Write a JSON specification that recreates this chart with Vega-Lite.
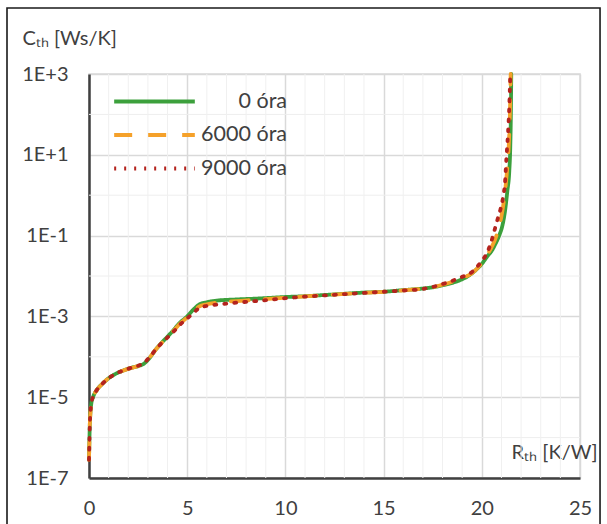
{
  "$schema": "https://vega.github.io/schema/vega-lite/v6.json",
  "width": 491,
  "height": 404,
  "autosize": "none",
  "padding": {"left": 89, "top": 74, "right": 27, "bottom": 46},
  "background": "white",
  "config": {
    "view": {"stroke": "#d9d9d9", "strokeWidth": 1.5},
    "font": "Lato"
  },
  "resolve": {"axis": {"x": "independent", "y": "independent"}},
  "datasets": {
    "curves": [
      {"R": 0, "C": 2.818e-7, "s": "0 óra"},
      {"R": 0.02, "C": 7.943e-7, "s": "0 óra"},
      {"R": 0.04, "C": 1.995e-6, "s": "0 óra"},
      {"R": 0.07, "C": 3.981e-6, "s": "0 óra"},
      {"R": 0.12, "C": 7.079e-6, "s": "0 óra"},
      {"R": 0.22, "C": 1.047e-5, "s": "0 óra"},
      {"R": 0.4, "C": 1.514e-5, "s": "0 óra"},
      {"R": 0.7, "C": 2.188e-5, "s": "0 óra"},
      {"R": 1.0, "C": 2.951e-5, "s": "0 óra"},
      {"R": 1.4, "C": 3.890e-5, "s": "0 óra"},
      {"R": 1.8, "C": 4.677e-5, "s": "0 óra"},
      {"R": 2.1, "C": 5.248e-5, "s": "0 óra"},
      {"R": 2.5, "C": 5.888e-5, "s": "0 óra"},
      {"R": 2.8, "C": 6.761e-5, "s": "0 óra"},
      {"R": 3.1, "C": 9.550e-5, "s": "0 óra"},
      {"R": 3.4, "C": 1.514e-4, "s": "0 óra"},
      {"R": 3.7, "C": 2.239e-4, "s": "0 óra"},
      {"R": 4.0, "C": 3.162e-4, "s": "0 óra"},
      {"R": 4.3, "C": 4.571e-4, "s": "0 óra"},
      {"R": 4.6, "C": 6.761e-4, "s": "0 óra"},
      {"R": 5.0, "C": 1.0e-3, "s": "0 óra"},
      {"R": 5.3, "C": 1.445e-3, "s": "0 óra"},
      {"R": 5.6, "C": 1.950e-3, "s": "0 óra"},
      {"R": 6.0, "C": 2.239e-3, "s": "0 óra"},
      {"R": 6.5, "C": 2.455e-3, "s": "0 óra"},
      {"R": 7.5, "C": 2.630e-3, "s": "0 óra"},
      {"R": 8.5, "C": 2.754e-3, "s": "0 óra"},
      {"R": 10, "C": 3.020e-3, "s": "0 óra"},
      {"R": 11, "C": 3.162e-3, "s": "0 óra"},
      {"R": 12, "C": 3.388e-3, "s": "0 óra"},
      {"R": 13, "C": 3.631e-3, "s": "0 óra"},
      {"R": 14, "C": 3.890e-3, "s": "0 óra"},
      {"R": 15, "C": 4.074e-3, "s": "0 óra"},
      {"R": 16, "C": 4.467e-3, "s": "0 óra"},
      {"R": 17, "C": 4.898e-3, "s": "0 óra"},
      {"R": 17.5, "C": 5.248e-3, "s": "0 óra"},
      {"R": 18, "C": 5.888e-3, "s": "0 óra"},
      {"R": 18.5, "C": 6.761e-3, "s": "0 óra"},
      {"R": 19, "C": 8.318e-3, "s": "0 óra"},
      {"R": 19.4, "C": 1.072e-2, "s": "0 óra"},
      {"R": 19.7, "C": 1.413e-2, "s": "0 óra"},
      {"R": 20.0, "C": 1.995e-2, "s": "0 óra"},
      {"R": 20.3, "C": 3.162e-2, "s": "0 óra"},
      {"R": 20.5, "C": 4.169e-2, "s": "0 óra"},
      {"R": 20.7, "C": 6.310e-2, "s": "0 óra"},
      {"R": 20.9, "C": 0.1047, "s": "0 óra"},
      {"R": 21.05, "C": 0.1778, "s": "0 óra"},
      {"R": 21.18, "C": 0.3981, "s": "0 óra"},
      {"R": 21.3, "C": 1.259, "s": "0 óra"},
      {"R": 21.4, "C": 3.981, "s": "0 óra"},
      {"R": 21.45, "C": 15.85, "s": "0 óra"},
      {"R": 21.48, "C": 100, "s": "0 óra"},
      {"R": 21.5, "C": 1000, "s": "0 óra"},

      {"R": 0, "C": 2.818e-7, "s": "6000 óra"},
      {"R": 0.02, "C": 7.943e-7, "s": "6000 óra"},
      {"R": 0.04, "C": 1.995e-6, "s": "6000 óra"},
      {"R": 0.07, "C": 3.981e-6, "s": "6000 óra"},
      {"R": 0.12, "C": 7.079e-6, "s": "6000 óra"},
      {"R": 0.22, "C": 1.047e-5, "s": "6000 óra"},
      {"R": 0.4, "C": 1.514e-5, "s": "6000 óra"},
      {"R": 0.7, "C": 2.188e-5, "s": "6000 óra"},
      {"R": 1.0, "C": 2.951e-5, "s": "6000 óra"},
      {"R": 1.4, "C": 3.890e-5, "s": "6000 óra"},
      {"R": 1.8, "C": 4.677e-5, "s": "6000 óra"},
      {"R": 2.1, "C": 5.248e-5, "s": "6000 óra"},
      {"R": 2.5, "C": 5.9e-5, "s": "6000 óra"},
      {"R": 2.8, "C": 6.9e-5, "s": "6000 óra"},
      {"R": 3.1, "C": 9.8e-5, "s": "6000 óra"},
      {"R": 3.4, "C": 1.514e-4, "s": "6000 óra"},
      {"R": 3.7, "C": 2.2e-4, "s": "6000 óra"},
      {"R": 4.0, "C": 3.09e-4, "s": "6000 óra"},
      {"R": 4.3, "C": 4.37e-4, "s": "6000 óra"},
      {"R": 4.6, "C": 6.4e-4, "s": "6000 óra"},
      {"R": 5.0, "C": 9.4e-4, "s": "6000 óra"},
      {"R": 5.3, "C": 1.32e-3, "s": "6000 óra"},
      {"R": 5.6, "C": 1.74e-3, "s": "6000 óra"},
      {"R": 6.0, "C": 2.0e-3, "s": "6000 óra"},
      {"R": 6.5, "C": 2.19e-3, "s": "6000 óra"},
      {"R": 7.5, "C": 2.4e-3, "s": "6000 óra"},
      {"R": 8.5, "C": 2.57e-3, "s": "6000 óra"},
      {"R": 10, "C": 2.9e-3, "s": "6000 óra"},
      {"R": 11, "C": 3.12e-3, "s": "6000 óra"},
      {"R": 12, "C": 3.35e-3, "s": "6000 óra"},
      {"R": 13, "C": 3.59e-3, "s": "6000 óra"},
      {"R": 14, "C": 3.85e-3, "s": "6000 óra"},
      {"R": 15, "C": 4.07e-3, "s": "6000 óra"},
      {"R": 16, "C": 4.42e-3, "s": "6000 óra"},
      {"R": 17, "C": 4.85e-3, "s": "6000 óra"},
      {"R": 17.5, "C": 5.3e-3, "s": "6000 óra"},
      {"R": 18, "C": 6.1e-3, "s": "6000 óra"},
      {"R": 18.5, "C": 7.2e-3, "s": "6000 óra"},
      {"R": 19, "C": 8.9e-3, "s": "6000 óra"},
      {"R": 19.5, "C": 1.17e-2, "s": "6000 óra"},
      {"R": 19.8, "C": 1.6e-2, "s": "6000 óra"},
      {"R": 20.05, "C": 2.25e-2, "s": "6000 óra"},
      {"R": 20.3, "C": 3.5e-2, "s": "6000 óra"},
      {"R": 20.5, "C": 5.2e-2, "s": "6000 óra"},
      {"R": 20.7, "C": 8.5e-2, "s": "6000 óra"},
      {"R": 20.85, "C": 0.15, "s": "6000 óra"},
      {"R": 21.0, "C": 0.3, "s": "6000 óra"},
      {"R": 21.12, "C": 0.7, "s": "6000 óra"},
      {"R": 21.22, "C": 1.8, "s": "6000 óra"},
      {"R": 21.3, "C": 5.0, "s": "6000 óra"},
      {"R": 21.38, "C": 20, "s": "6000 óra"},
      {"R": 21.43, "C": 100, "s": "6000 óra"},
      {"R": 21.47, "C": 1000, "s": "6000 óra"},

      {"R": 0, "C": 2.818e-7, "s": "9000 óra"},
      {"R": 0.02, "C": 7.943e-7, "s": "9000 óra"},
      {"R": 0.04, "C": 1.995e-6, "s": "9000 óra"},
      {"R": 0.07, "C": 3.981e-6, "s": "9000 óra"},
      {"R": 0.12, "C": 7.079e-6, "s": "9000 óra"},
      {"R": 0.22, "C": 1.047e-5, "s": "9000 óra"},
      {"R": 0.4, "C": 1.514e-5, "s": "9000 óra"},
      {"R": 0.7, "C": 2.188e-5, "s": "9000 óra"},
      {"R": 1.0, "C": 2.951e-5, "s": "9000 óra"},
      {"R": 1.4, "C": 3.890e-5, "s": "9000 óra"},
      {"R": 1.8, "C": 4.677e-5, "s": "9000 óra"},
      {"R": 2.1, "C": 5.248e-5, "s": "9000 óra"},
      {"R": 2.5, "C": 6.026e-5, "s": "9000 óra"},
      {"R": 2.8, "C": 7.079e-5, "s": "9000 óra"},
      {"R": 3.1, "C": 1.0e-4, "s": "9000 óra"},
      {"R": 3.4, "C": 1.514e-4, "s": "9000 óra"},
      {"R": 3.7, "C": 2.188e-4, "s": "9000 óra"},
      {"R": 4.0, "C": 3.020e-4, "s": "9000 óra"},
      {"R": 4.3, "C": 4.169e-4, "s": "9000 óra"},
      {"R": 4.6, "C": 6.026e-4, "s": "9000 óra"},
      {"R": 5.0, "C": 8.913e-4, "s": "9000 óra"},
      {"R": 5.3, "C": 1.202e-3, "s": "9000 óra"},
      {"R": 5.6, "C": 1.585e-3, "s": "9000 óra"},
      {"R": 6.0, "C": 1.820e-3, "s": "9000 óra"},
      {"R": 6.5, "C": 1.950e-3, "s": "9000 óra"},
      {"R": 7.5, "C": 2.188e-3, "s": "9000 óra"},
      {"R": 8.5, "C": 2.399e-3, "s": "9000 óra"},
      {"R": 10, "C": 2.818e-3, "s": "9000 óra"},
      {"R": 11, "C": 3.090e-3, "s": "9000 óra"},
      {"R": 12, "C": 3.311e-3, "s": "9000 óra"},
      {"R": 13, "C": 3.548e-3, "s": "9000 óra"},
      {"R": 14, "C": 3.802e-3, "s": "9000 óra"},
      {"R": 15, "C": 4.074e-3, "s": "9000 óra"},
      {"R": 16, "C": 4.365e-3, "s": "9000 óra"},
      {"R": 16.85, "C": 4.677e-3, "s": "9000 óra"},
      {"R": 17.5, "C": 5.370e-3, "s": "9000 óra"},
      {"R": 18, "C": 6.310e-3, "s": "9000 óra"},
      {"R": 18.5, "C": 7.586e-3, "s": "9000 óra"},
      {"R": 19, "C": 9.550e-3, "s": "9000 óra"},
      {"R": 19.5, "C": 1.259e-2, "s": "9000 óra"},
      {"R": 19.8, "C": 1.778e-2, "s": "9000 óra"},
      {"R": 20.05, "C": 2.512e-2, "s": "9000 óra"},
      {"R": 20.25, "C": 3.631e-2, "s": "9000 óra"},
      {"R": 20.45, "C": 6.310e-2, "s": "9000 óra"},
      {"R": 20.6, "C": 0.1122, "s": "9000 óra"},
      {"R": 20.8, "C": 0.2512, "s": "9000 óra"},
      {"R": 20.95, "C": 0.4467, "s": "9000 óra"},
      {"R": 21.1, "C": 1.0, "s": "9000 óra"},
      {"R": 21.18, "C": 2.0, "s": "9000 óra"},
      {"R": 21.25, "C": 7.943, "s": "9000 óra"},
      {"R": 21.33, "C": 31.62, "s": "9000 óra"},
      {"R": 21.4, "C": 158.5, "s": "9000 óra"},
      {"R": 21.45, "C": 1000, "s": "9000 óra"}
    ],
    "gridY": [
      {"g": 1e-6}, {"g": 1e-4}, {"g": 1e-2}, {"g": 1}, {"g": 100}
    ],
    "gridX": [
      {"g": 1}, {"g": 2}, {"g": 3}, {"g": 4},
      {"g": 6}, {"g": 7}, {"g": 8}, {"g": 9},
      {"g": 11}, {"g": 12}, {"g": 13}, {"g": 14},
      {"g": 16}, {"g": 17}, {"g": 18}, {"g": 19},
      {"g": 21}, {"g": 22}, {"g": 23}, {"g": 24}
    ]
  },
  "layer": [
    {
      "data": {"name": "gridY"},
      "mark": {"type": "rule", "color": "#eeeeee", "strokeWidth": 1},
      "encoding": {
        "y": {"field": "g", "type": "quantitative", "scale": {"type": "log", "domain": [1e-7, 1000], "nice": false}, "axis": null}
      }
    },
    {
      "data": {"name": "gridX"},
      "mark": {"type": "rule", "color": "#f0f0f0", "strokeWidth": 1},
      "encoding": {
        "x": {"field": "g", "type": "quantitative", "scale": {"domain": [0, 25], "nice": false}, "axis": null}
      }
    },
    {
      "data": {"values": [{}]},
      "mark": {"type": "rect", "fill": null, "fillOpacity": 0, "stroke": "#1a1a1a", "strokeWidth": 1.6, "clip": false},
      "encoding": {
        "x": {"datum": -4.175, "type": "quantitative", "axis": null},
        "x2": {"datum": 26.02},
        "y": {"datum": 43000, "type": "quantitative", "axis": null},
        "y2": {"datum": 5e-9}
      }
    },
    {
      "data": {"name": "curves"},
      "mark": {"type": "line", "strokeWidth": 3.8, "strokeCap": "round", "strokeJoin": "round", "interpolate": "monotone", "clip": false},
      "encoding": {
        "x": {
          "field": "R", "type": "quantitative",
          "scale": {"domain": [0, 25], "nice": false},
          "axis": {
            "values": [0, 5, 10, 15, 20, 25],
            "grid": true, "gridColor": "#d9d9d9", "gridWidth": 1.5,
            "domain": true, "domainColor": "#404040", "domainWidth": 2.5,
            "ticks": false, "labelFlush": false,
            "labelPadding": 20, "labelFontSize": 20, "labelColor": "#404040", "labelFont": "Lato",
            "title": "Rₜₕ [K/W]",
            "titleFont": "Lato", "titleFontSize": 20, "titleFontWeight": "normal", "titleColor": "#404040",
            "titleAlign": "right", "titleBaseline": "middle", "titleAngle": 0,
            "titleX": 508, "titleY": -26
          }
        },
        "y": {
          "field": "C", "type": "quantitative",
          "scale": {"type": "log", "domain": [1e-7, 1000], "nice": false},
          "axis": {
            "values": [1e-7, 1e-5, 1e-3, 0.1, 10, 1000],
            "grid": true, "gridColor": "#d9d9d9", "gridWidth": 1.5,
            "domain": true, "domainColor": "#404040", "domainWidth": 2.5,
            "ticks": false, "labelFlush": false,
            "labelPadding": 21, "labelFontSize": 20, "labelColor": "#404040", "labelFont": "Lato",
            "labelExpr": "'1E' + (datum.value >= 1 ? '+' : '-') + abs(round(log(datum.value) / LN10))",
            "title": "Cₜₕ [Ws/K]",
            "titleFont": "Lato", "titleFontSize": 20, "titleFontWeight": "normal", "titleColor": "#404040",
            "titleAlign": "left", "titleBaseline": "middle", "titleAngle": 0,
            "titleX": -67, "titleY": -36
          }
        },
        "color": {
          "field": "s", "type": "nominal",
          "scale": {"domain": ["0 óra", "6000 óra", "9000 óra"], "range": ["#3ca03c", "#f5a12a", "#b4231e"]},
          "legend": {
            "orient": "none", "legendX": 23, "legendY": 12,
            "title": null,
            "symbolType": "M-1,0H5.05", "symbolSize": 711, "symbolStrokeWidth": 4,
            "labelFont": "Lato", "labelFontSize": 21.5, "labelColor": "#404040", "labelOffset": 144,
            "labelAlign": "right",
            "rowPadding": 7.5
          }
        },
        "strokeDash": {
          "field": "s", "type": "nominal",
          "scale": {"domain": ["0 óra", "6000 óra", "9000 óra"], "range": [[1, 0], [18, 16], [2, 8]]},
          "legend": {
            "orient": "none", "legendX": 23, "legendY": 12,
            "title": null,
            "symbolType": "M-1,0H5.05", "symbolSize": 711, "symbolStrokeWidth": 4,
            "labelFont": "Lato", "labelFontSize": 21.5, "labelColor": "#404040", "labelOffset": 144,
            "labelAlign": "right",
            "rowPadding": 7.5
          }
        }
      }
    }
  ]
}
